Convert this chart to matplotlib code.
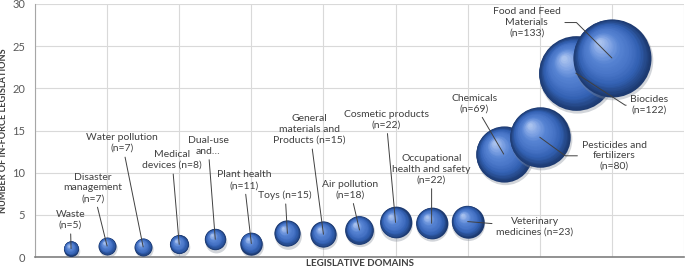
import matplotlib
matplotlib.use("Agg")
import matplotlib.pyplot as plt
import numpy as np
from matplotlib.colors import LinearSegmentedColormap
from matplotlib.transforms import offset_copy

plt.rcParams["font.family"] = ["Lato", "DejaVu Sans"]

domains = ["Waste", "Disaster management", "Water pollution", "Medical devices",
           "Dual-use", "Plant health", "Toys", "General materials and Products",
           "Air pollution", "Cosmetic products", "Occupational health and safety",
           "Veterinary medicines", "Chemicals", "Pesticides and fertilizers",
           "Biocides", "Food and Feed Materials"]
x_vals = [0.5, 1.0, 1.5, 2.0, 2.5, 3.0, 3.5, 4.0, 4.5, 5.0, 5.5, 6.0, 6.5, 7.0, 7.5, 8.0]
y_vals = [1.0, 1.3, 1.2, 1.5, 2.1, 1.6, 2.8, 2.7, 3.2, 4.1, 4.0, 4.2, 12.2, 14.2, 21.8, 23.6]
n_vals = [5, 7, 7, 8, 10, 11, 15, 15, 18, 22, 22, 23, 69, 80, 122, 133]

labels = ["Waste\n(n=5)", "Disaster\nmanagement\n(n=7)", "Water pollution\n(n=7)",
          "Medical\ndevices (n=8)", "Dual-use\nand\u2026", "Plant health\n(n=11)",
          "Toys (n=15)", "General\nmaterials and\nProducts (n=15)",
          "Air pollution\n(n=18)", "Cosmetic products\n(n=22)",
          "Occupational\nhealth and safety\n(n=22)", "Veterinary\nmedicines (n=23)",
          "Chemicals\n(n=69)", "Pesticides and\nfertilizers\n(n=80)",
          "Biocides\n(n=122)", "Food and Feed\nMaterials\n(n=133)"]
# where each label sits (data coords) and how its leader line bends
label_pos = [(0.49, 4.4), (0.8, 8.2), (1.21, 13.5), (1.9, 11.5), (2.4, 13.2),
             (2.9, 9.1), (3.47, 7.35), (3.81, 15.1), (4.37, 8.0), (4.87, 16.3),
             (5.5, 10.4), (6.93, 3.55), (6.09, 18.2), (8.03, 12.0),
             (8.52, 18.0), (6.82, 27.8)]
bends = {13: "angle,angleA=0,angleB=-36,rad=0",
         14: "angle,angleA=0,angleB=-33,rad=0",
         15: "angle,angleA=0,angleB=-45,rad=0"}

fig = plt.figure(figsize=(6.85, 2.7), dpi=100)
ax = fig.add_axes([35 / 685, 13 / 270, 649 / 685, 253 / 270])
ax.set_xlim(0, 9)
ax.set_ylim(0, 30)
ax.set_xticks(np.arange(0, 10, 1))
ax.set_yticks(np.arange(0, 31, 5))
ax.set_xticklabels([])
ax.grid(True, color="#d9d9d9", lw=0.8)
ax.set_axisbelow(True)
for s in ["top", "right"]:
    ax.spines[s].set_visible(False)
ax.spines["left"].set_color("#a6a6a6")
ax.spines["bottom"].set_color("#7f7f7f")
ax.spines["bottom"].set_linewidth(1.2)
ax.tick_params(length=0, labelsize=8, labelcolor="#595959", pad=7)
ax.tick_params(axis="x", pad=0)

sphere = LinearSegmentedColormap.from_list(
    "sphere", ["#1d3a70", "#3260b2", "#4976c8", "#5683d2", "#7ea2e3", "#a9c2ee"])

k = 4.87  # marker diameter (pt) per sqrt(n)
layers = 30
for i, (x, y, n) in enumerate(zip(x_vals, y_vals, n_vals)):
    d = k * np.sqrt(n)
    r = d / 2
    base = 3 + i * 0.1
    sh = offset_copy(ax.transData, fig=fig, x=0.6, y=-1.6, units="points")
    ax.plot([x], [y], "o", ms=d * 1.02, color="#7f8795", alpha=0.35,
            mec="none", transform=sh, zorder=base)
    for j in range(layers):
        t = j / (layers - 1)
        f = 1 - 0.93 * t
        tr = offset_copy(ax.transData, fig=fig, x=-0.32 * r * t,
                         y=0.4 * r * t, units="points")
        ax.plot([x], [y], "o", ms=d * f, color=sphere(t ** 1.1), mec="none",
                transform=tr, zorder=base + 0.001 + t * 0.09)

for i, (lab, (tx, ty)) in enumerate(zip(labels, label_pos)):
    ax.annotate(lab, xy=(x_vals[i], y_vals[i]), xytext=(tx, ty),
                ha="center", va="center", fontsize=7.5, color="#404040",
                linespacing=1.25,
                arrowprops=dict(arrowstyle="-", color="#404040", lw=0.7,
                                shrinkA=1, shrinkB=0,
                                connectionstyle=bends.get(i, "arc3")),
                zorder=10, annotation_clip=False)

ax.set_ylabel("NUMBER OF IN-FORCE LEGISLATIONS", fontsize=6.6, fontweight="bold",
              color="#404040", labelpad=3)
fig.text(360 / 685, 1 - 263 / 270, "LEGISLATIVE DOMAINS", ha="center",
         va="center", fontsize=7, fontweight="bold", color="#404040")

fig.savefig("out.png", dpi=100)
